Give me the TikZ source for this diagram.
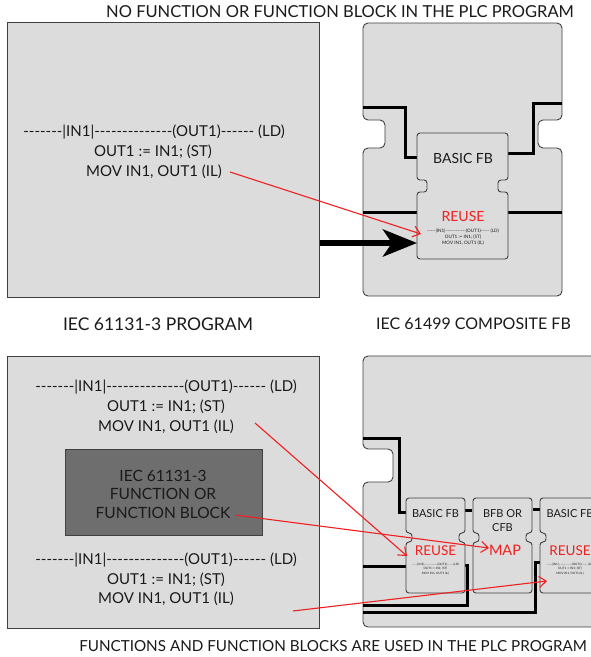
\documentclass[tikz,border=0pt]{standalone}
\usepackage{fontspec}
\setmainfont{Lato}[Ligatures=TeXOff]
\usetikzlibrary{arrows.meta}
\definecolor{boxgray}{HTML}{DCDCDC}
\definecolor{edgegray}{HTML}{404040}
\definecolor{darkbox}{HTML}{6E6E6E}
\definecolor{redline}{HTML}{F02020}
\definecolor{txtcol}{HTML}{1A1A1A}
\tikzset{
  panel/.style={draw=edgegray, fill=boxgray, line width=0.9pt},
  fbshape/.style={draw=edgegray, fill=boxgray, line width=0.9pt, rounded corners=3pt},
  comp/.style={draw=edgegray, fill=boxgray, line width=0.9pt, rounded corners=5pt},
  sig/.style={draw=black, line width=3pt},
  redarrow/.style={draw=redline, line width=1.1pt, -{Straight Barb[length=7pt,width=11pt]}},
  caption/.style={inner sep=0pt, text=txtcol},
  code/.style={inner sep=0pt, text=txtcol, font=\fontsize{15}{17}\selectfont},
  fblabel/.style={inner sep=0pt, text=txtcol, align=center},
  reuse/.style={inner sep=0pt, text=redline},
  tiny/.style={inner sep=0pt, text=txtcol, align=center},
}
\begin{document}
\begin{tikzpicture}[x=1pt,y=-1pt]
\useasboundingbox (0,0) rectangle (591,657);
\clip (0,0) rectangle (591,657);
\fill[white] (0,0) rectangle (591,657);

% ---------- titles ----------
\node[caption, font=\fontsize{16.5}{18}\selectfont] (ttop) at (340,12) {NO FUNCTION OR FUNCTION BLOCK IN THE PLC PROGRAM};
\node[caption, font=\fontsize{17.5}{19}\selectfont] (tprog) at (158,324) {IEC 61131-3 PROGRAM};
\node[caption, font=\fontsize{16}{18}\selectfont, anchor=west] (tcomp) at (376,324) {IEC 61499 COMPOSITE FB};
\node[caption, font=\fontsize{15.2}{17}\selectfont] (tbot) at (333,646) {FUNCTIONS AND FUNCTION BLOCKS ARE USED IN THE PLC PROGRAM};

% ---------- top left panel ----------
\path[panel] (7,22) rectangle (319,297);
\node[code] (ld1) at (154,132) {-------|IN1|--------------(OUT1)------ (LD)};
\node[code] (st1) at (153,152) {OUT1 := IN1; (ST)};
\node[code] (il1) at (154,172) {MOV IN1, OUT1 (IL)};

% ---------- top right composite ----------
\path[comp] (363,23) -- (562,23) -- (562,120) -- (538,120) -- (538,148) -- (562,148)
  -- (562,296) -- (363,296) -- (363,148) -- (385,148) -- (385,120) -- (363,120) -- cycle;
\draw[sig] (363,107) -- (405,107) -- (405,157) -- (417,157);
\draw[sig] (562,103) -- (533,103) -- (533,153) -- (508,153);
\draw[sig] (363,212) -- (417,212);
\draw[sig] (508,212) -- (562,212);
\path[fbshape] (417,133) -- (508,133) -- (508,180) -- (498,180) -- (498,192) -- (508,192)
  -- (508,259) -- (417,259) -- (417,192) -- (427,192) -- (427,180) -- (417,180) -- cycle;
\node[fblabel, font=\fontsize{14}{16}\selectfont] (bfbtop) at (463,158) {BASIC FB};
\node[reuse, font=\fontsize{14}{16}\selectfont] (reusetop) at (463,216) {REUSE};
\node[tiny, font=\fontsize{4.6}{6}\selectfont] (tinytop) at (463,237)
  {-----|IN1|------------(OUT1)----- (LD)\\OUT1 := IN1; (ST)\\MOV IN1, OUT1 (IL)};
\coordinate (fbin) at (417,243);
\coordinate (reusein) at (421,234);
\coordinate (progout) at (320,243);
\coordinate (ilstart) at (230,172);
\draw[line width=6pt, -{Stealth[length=34pt,width=27pt,inset=9pt]}] (progout) -- (fbin);
\draw[redarrow] (ilstart) -- (reusein);

% ---------- bottom left panel ----------
\path[panel] (7,356) rectangle (319,628);
\node[code] (ld2) at (166,387) {-------|IN1|--------------(OUT1)------ (LD)};
\node[code] (st2) at (166,407) {OUT1 := IN1; (ST)};
\node[code] (il2) at (166,427) {MOV IN1, OUT1 (IL)};
\path[draw=edgegray, fill=darkbox, line width=0.9pt] (65,449) rectangle (262,535);
\node[fblabel, font=\fontsize{15.5}{18.5}\selectfont] (fnblk) at (163,494)
  {IEC 61131-3\\FUNCTION OR\\FUNCTION BLOCK};
\node[code] (ld3) at (166,560) {-------|IN1|--------------(OUT1)------ (LD)};
\node[code] (st3) at (166,580) {OUT1 := IN1; (ST)};
\node[code] (il3) at (166,599) {MOV IN1, OUT1 (IL)};

% ---------- bottom right composite ----------
\path[comp] (363,356) -- (615,356) -- (615,627) -- (363,627) -- (363,482) -- (393,482)
  -- (393,449) -- (363,449) -- cycle;
\draw[sig] (363,438) -- (399,438) -- (399,512) -- (406,512);
\draw[sig] (465,510) -- (472,510);
\draw[sig] (533,509) -- (540,509);
\draw[sig] (363,566) -- (406,566);
\draw[sig] (465,565) -- (467,565) -- (467,605) -- (363,605);
\draw[sig] (540,562) -- (535,562) -- (535,612) -- (363,612);
\foreach \xa/\nm in {406/fba,473/fbb,540/fbc}{
  \path[fbshape] (\xa,498) -- ({\xa+59},498) -- ({\xa+59},533) -- ({\xa+53},533) -- ({\xa+53},542)
    -- ({\xa+59},542) -- ({\xa+59},593) -- (\xa,593) -- (\xa,542) -- ({\xa+6},542) -- ({\xa+6},533)
    -- (\xa,533) -- cycle;
}
\node[fblabel, font=\fontsize{11}{14}\selectfont] (bfb1) at (435.5,514) {BASIC FB};
\node[fblabel, font=\fontsize{11}{14}\selectfont] (bfb2) at (502.5,520.5) {BFB OR\\CFB};
\node[fblabel, font=\fontsize{11}{14}\selectfont] (bfb3) at (570,514) {BASIC FB};
\node[reuse, font=\fontsize{13.5}{16}\selectfont] (reuse1) at (435.5,551) {REUSE};
\node[reuse, font=\fontsize{14.5}{16}\selectfont] (map) at (505,550) {MAP};
\node[reuse, font=\fontsize{13.5}{16}\selectfont] (reuse3) at (570,551) {REUSE};
\node[tiny, font=\fontsize{3}{4.2}\selectfont] (tiny1) at (435.5,569)
  {-----|IN1|------------(OUT1)----- (LD)\\OUT1 := IN1; (ST)\\MOV IN1, OUT1 (IL)};
\node[tiny, font=\fontsize{3}{4.2}\selectfont] (tiny3) at (570,569)
  {-----|IN1|------------(OUT1)----- (LD)\\OUT1 := IN1; (ST)\\MOV IN1, OUT1 (IL)};

\coordinate (r1in) at (407,556);
\coordinate (mapin) at (489,548);
\coordinate (r3in) at (547,581);
\coordinate (il2start) at (255,423);
\coordinate (fnstart) at (235,515);
\coordinate (lowstart) at (293,611);
\draw[redarrow] (il2start) -- (r1in);
\draw[redarrow] (fnstart) -- (mapin);
\draw[redarrow] (lowstart) -- (r3in);
\end{tikzpicture}
\end{document}
